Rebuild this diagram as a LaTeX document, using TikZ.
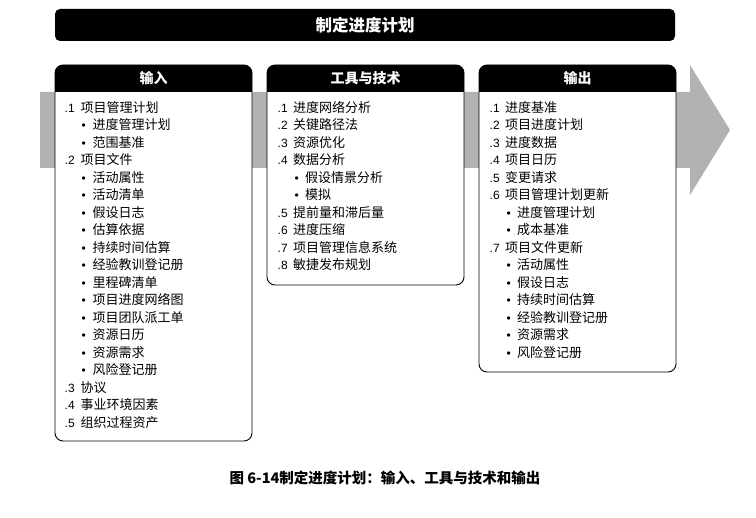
\documentclass[tikz,border=0pt]{standalone}
\usepackage{fontspec}
\setmainfont{Noto Sans CJK SC}
\newfontfamily\bulf{Liberation Sans}
\begin{document}
\begin{tikzpicture}[x=1pt,y=-1pt,
  band/.style={fill=black!30},
  boxbody/.style={draw=black,line width=0.9pt,fill=white,rounded corners=8pt},
  boxhead/.style={fill=black},
  headtxt/.style={text=white,font=\fontsize{14}{16}\selectfont\bfseries},
  item/.style={anchor=west,inner sep=0pt,text height=9.5pt,text depth=2.5pt,font=\fontsize{13}{14}\selectfont},
  numlbl/.style={item,font=\bulf\fontsize{12}{14}\selectfont}
]
\useasboundingbox (0,0) rectangle (756,518);
% gray process arrow
\fill[band] (40,92) -- (690,92) -- (690,65) -- (730,130) -- (690,195) -- (690,168) -- (40,168) -- cycle;
% title bar
\fill[rounded corners=5pt] (55,9) rectangle (675,41);
\node[text=white,font=\fontsize{16.5}{18}\selectfont\bfseries] (title) at (365,25) {制定进度计划};
% boxes
\draw[boxbody] (55,65) rectangle (252,441);
\fill[boxhead] (55,92) {[rounded corners=8pt] -- (55,65) -- (252,65)} -- (252,92) -- cycle;
\node[headtxt] (hin) at (153.5,78.5) {输入};
\draw[boxbody] (267,65) rectangle (464,285);
\fill[boxhead] (267,92) {[rounded corners=8pt] -- (267,65) -- (464,65)} -- (464,92) -- cycle;
\node[headtxt] (htool) at (365.5,78.5) {工具与技术};
\draw[boxbody] (479,65) rectangle (676,372);
\fill[boxhead] (479,92) {[rounded corners=8pt] -- (479,65) -- (676,65)} -- (676,92) -- cycle;
\node[headtxt] (hout) at (577.5,78.5) {输出};
% lists
\foreach \a/\b/\t [count=\i from 0] in {
  .1/0/项目管理计划, •/1/进度管理计划, •/1/范围基准, .2/0/项目文件,
  •/1/活动属性, •/1/活动清单, •/1/假设日志, •/1/估算依据, •/1/持续时间估算,
  •/1/经验教训登记册, •/1/里程碑清单, •/1/项目进度网络图, •/1/项目团队派工单,
  •/1/资源日历, •/1/资源需求, •/1/风险登记册, .3/0/协议, .4/0/事业环境因素, .5/0/组织过程资产}{
  \pgfmathsetmacro\yy{109+17.5*\i}
  \pgfmathsetmacro\xl{64.5+17*\b}
  \pgfmathsetmacro\xt{80.5+12*\b}
  \node[numlbl] (inl\i) at (\xl,\yy) {\a};
  \node[item] (int\i) at (\xt,\yy) {\t};
}
\foreach \a/\b/\t [count=\i from 0] in {
  .1/0/进度网络分析, .2/0/关键路径法, .3/0/资源优化, .4/0/数据分析,
  •/1/假设情景分析, •/1/模拟, .5/0/提前量和滞后量, .6/0/进度压缩,
  .7/0/项目管理信息系统, .8/0/敏捷发布规划}{
  \pgfmathsetmacro\yy{109+17.5*\i}
  \pgfmathsetmacro\xl{277.5+17*\b}
  \pgfmathsetmacro\xt{293+12*\b}
  \node[numlbl] (tl\i) at (\xl,\yy) {\a};
  \node[item] (tt\i) at (\xt,\yy) {\t};
}
\foreach \a/\b/\t [count=\i from 0] in {
  .1/0/进度基准, .2/0/项目进度计划, .3/0/进度数据, .4/0/项目日历, .5/0/变更请求,
  .6/0/项目管理计划更新, •/1/进度管理计划, •/1/成本基准, .7/0/项目文件更新,
  •/1/活动属性, •/1/假设日志, •/1/持续时间估算, •/1/经验教训登记册,
  •/1/资源需求, •/1/风险登记册}{
  \pgfmathsetmacro\yy{109+17.5*\i}
  \pgfmathsetmacro\xl{489.5+17*\b}
  \pgfmathsetmacro\xt{505+12*\b}
  \node[numlbl] (ol\i) at (\xl,\yy) {\a};
  \node[item] (ot\i) at (\xt,\yy) {\t};
}
% caption
\node[font=\fontsize{14.5}{16}\selectfont\bfseries] (cap) at (385,478) {图 6-14制定进度计划：输入、工具与技术和输出};
\end{tikzpicture}
\end{document}
